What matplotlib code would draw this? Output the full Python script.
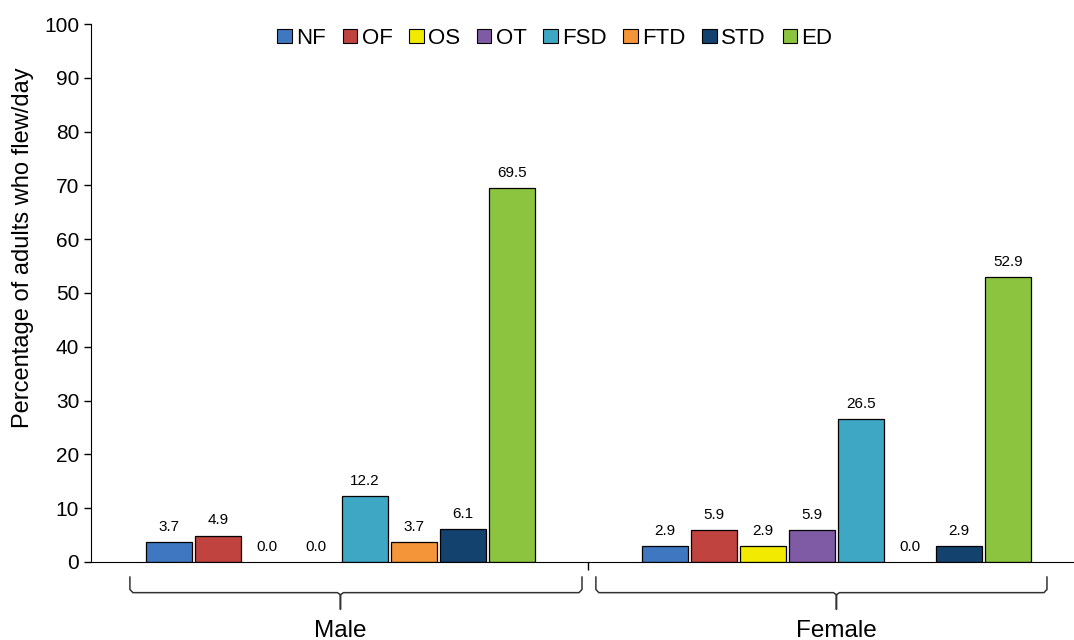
import numpy as np
import matplotlib.pyplot as plt
from matplotlib.lines import Line2D
from matplotlib.patches import Patch

plt.rcParams['font.family'] = ['Liberation Sans', 'DejaVu Sans']

# Data
groups = ['Male', 'Female']
categories = ['NF', 'OF', 'OS', 'OT', 'FSD', 'FTD', 'STD', 'ED']
male_vals = [3.7, 4.9, 0.0, 0.0, 12.2, 3.7, 6.1, 69.5]
female_vals = [2.9, 5.9, 2.9, 5.9, 26.5, 0.0, 2.9, 52.9]
colors = ['#3f78c0', '#c0433f', '#f2ea00', '#7f5ba6', '#3ea8c4', '#f5953a', '#13426f', '#8cc43f']

values = [male_vals, female_vals]

fig = plt.figure(figsize=(10.74, 6.4), dpi=100)
ax = fig.add_axes([0.0847, 0.1219, 0.9153, 0.8406])

slot = 1 / 10.12
bw = slot * 0.94
n = len(categories)
for g, vals in enumerate(values):
    for i, (v, c) in enumerate(zip(vals, colors)):
        x = g + (i - (n - 1) / 2) * slot
        if v > 0:
            ax.bar(x, v, width=bw, color=c, edgecolor='black', linewidth=0.9)
        ax.annotate(f'{v:.1f}', (x, v), xytext=(0, 6), textcoords='offset points',
                    ha='center', va='bottom', fontsize=11)

ax.set_xlim(-0.503, 1.479)
ax.set_ylim(0, 100)
ax.set_yticks(np.arange(0, 101, 10))
ax.tick_params(axis='y', labelsize=15, length=5, width=1, direction='out')
ax.set_xticks([0.5])
ax.set_xticklabels([''])
ax.tick_params(axis='x', length=6, width=1, direction='out')
ax.spines['top'].set_visible(False)
ax.spines['right'].set_visible(False)
ax.set_ylabel('Percentage of adults who flew/day', fontsize=17)
ax.yaxis.set_label_coords(-0.058, 0.584)

# braces under each group
trans = ax.get_xaxis_transform()
def brace(x0, x1, xc):
    y_top, y_mid, y_tip = -0.028, -0.057, -0.088
    r = 0.006
    xs = [x0, x0, x0 + r, xc - r, xc, xc, xc, xc + r, x1 - r, x1, x1]
    ys = [y_top, y_mid + 0.006, y_mid, y_mid, y_mid - 0.004, y_tip, y_mid - 0.004, y_mid, y_mid, y_mid + 0.006, y_top]
    ax.add_line(Line2D(xs, ys, transform=trans, color='#333333', lw=1.1, clip_on=False))

brace_px = [(130, 582, 340.5), (596, 1047, 836.5)]
for g, name in enumerate(groups):
    left, right, center = brace_px[g]
    x0 = g + (left - center) / 49 * slot
    x1 = g + (right - center) / 49 * slot
    brace(x0, x1, g)
    ax.text(g, -0.108, name, transform=trans, ha='center', va='top', fontsize=17.5)

handles = [Patch(facecolor=c, edgecolor='black', linewidth=0.8) for c in colors]
ax.legend(handles, categories, loc='upper center', bbox_to_anchor=(0.472, 1.03), ncol=8,
          frameon=False, fontsize=16, handlelength=0.65, handleheight=0.65,
          handletextpad=0.2, columnspacing=0.75)

fig.savefig('out.png', dpi=100)
